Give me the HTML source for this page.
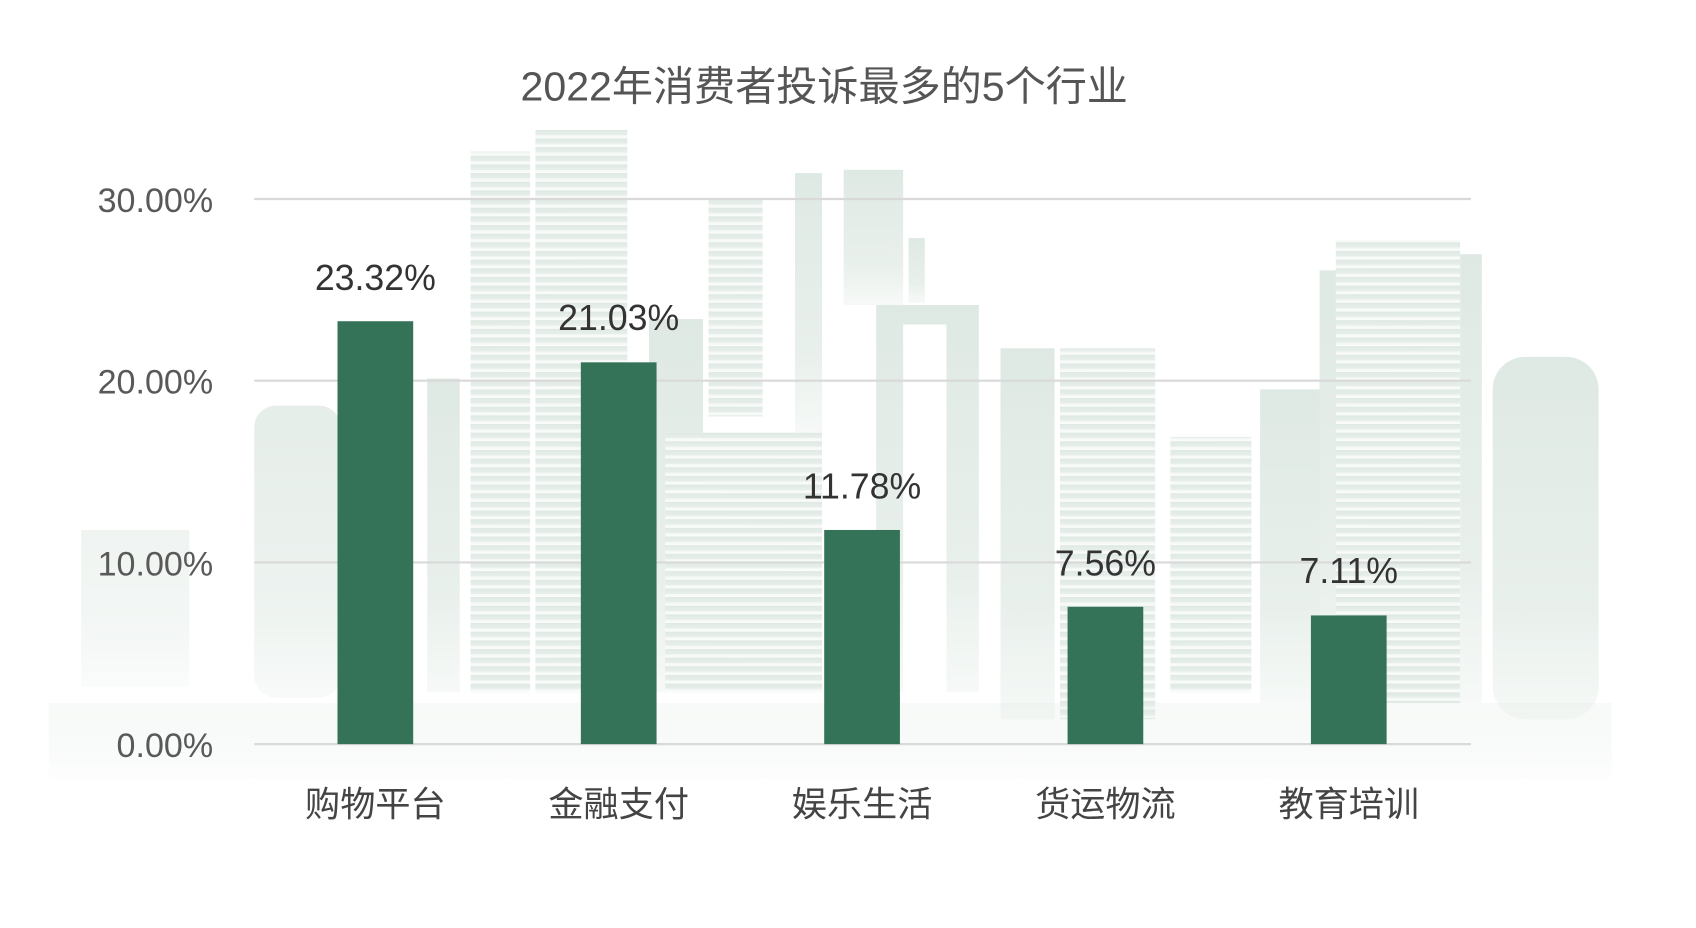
<!DOCTYPE html>
<html><head><meta charset="utf-8"><style>
html,body{margin:0;padding:0;background:#fff;}
svg{display:block;}
text{font-family:"Liberation Sans","Noto Sans CJK SC",sans-serif;}
</style></head><body>
<svg width="1696" height="928" viewBox="0 0 1568 858" xmlns="http://www.w3.org/2000/svg">
<defs>
<linearGradient id="fade" x1="0" y1="0" x2="0" y2="1">
<stop offset="0" stop-color="#dfe9e3"/><stop offset="0.7" stop-color="#e9f0ec"/><stop offset="1" stop-color="#f6f9f7"/>
</linearGradient>
<pattern id="win" width="12" height="8" patternUnits="userSpaceOnUse">
<rect width="12" height="8" fill="url(#fade)"/><rect x="0" y="5" width="12" height="3" fill="#fff" opacity="0.55"/>
</pattern>
</defs>
<rect width="1568" height="858" fill="#fff"/>
<g fill="url(#fade)">
<rect x="75" y="490" width="100" height="145" opacity="0.5"/>
<rect x="235" y="375" width="80" height="270" rx="20" opacity="0.8"/>
<rect x="395" y="350" width="30" height="290"/>
<rect x="435" y="140" width="55" height="500" fill="url(#win)"/>
<rect x="495" y="120" width="85" height="520" fill="url(#win)"/>
<rect x="600" y="295" width="50" height="345"/>
<rect x="615" y="400" width="145" height="240" fill="url(#win)"/>
<rect x="655" y="185" width="50" height="200" fill="url(#win)"/>
<rect x="735" y="160" width="25" height="240"/>
<rect x="780" y="157" width="55" height="125"/>
<rect x="840" y="220" width="15" height="60"/>
<rect x="810" y="282" width="95" height="358"/>
<rect x="835" y="300" width="40" height="340" fill="#fff"/>
<rect x="925" y="322" width="50" height="343"/>
<rect x="980" y="322" width="88" height="343" fill="url(#win)"/>
<rect x="1082" y="404" width="75" height="236" fill="url(#win)"/>
<rect x="1165" y="360" width="60" height="290"/>
<rect x="1220" y="250" width="20" height="400"/>
<rect x="1235" y="222" width="115" height="428" fill="url(#win)"/>
<rect x="1350" y="235" width="20" height="415"/>
<rect x="1380" y="330" width="98" height="335" rx="30"/>
<rect x="45" y="650" width="1445" height="70" opacity="0.25"/>
</g>
<g stroke="#d9d9d9" stroke-width="2">
<line x1="235" y1="184" x2="1360" y2="184"/>
<line x1="235" y1="352" x2="1360" y2="352"/>
<line x1="235" y1="520" x2="1360" y2="520"/>
<line x1="235" y1="688" x2="1360" y2="688"/>
</g>
<g font-size="31.5" fill="#595959" text-anchor="end">
<text x="197" y="196">30.00%</text>
<text x="197" y="364">20.00%</text>
<text x="197" y="532">10.00%</text>
<text x="197" y="700">0.00%</text>
</g>
<g fill="#347357">
<rect x="312" y="297" width="70" height="391"/>
<rect x="537" y="335" width="70" height="353"/>
<rect x="762" y="490" width="70" height="198"/>
<rect x="987" y="561" width="70" height="127"/>
<rect x="1212" y="569" width="70" height="119"/>
</g>
<g font-size="33" fill="#333" text-anchor="middle">
<text x="347" y="268">23.32%</text>
<text x="572" y="305">21.03%</text>
<text x="797" y="461">11.78%</text>
<text x="1022" y="532">7.56%</text>
<text x="1247" y="539">7.11%</text>
</g>
<g font-size="32.5" fill="#444" text-anchor="middle">
<text x="347" y="755">购物平台</text>
<text x="572" y="755">金融支付</text>
<text x="797" y="755">娱乐生活</text>
<text x="1022" y="755">货运物流</text>
<text x="1247" y="755">教育培训</text>
</g>
<text x="762" y="93" font-size="38" fill="#555" text-anchor="middle">2022年消费者投诉最多的5个行业</text>
</svg>
</body></html>
